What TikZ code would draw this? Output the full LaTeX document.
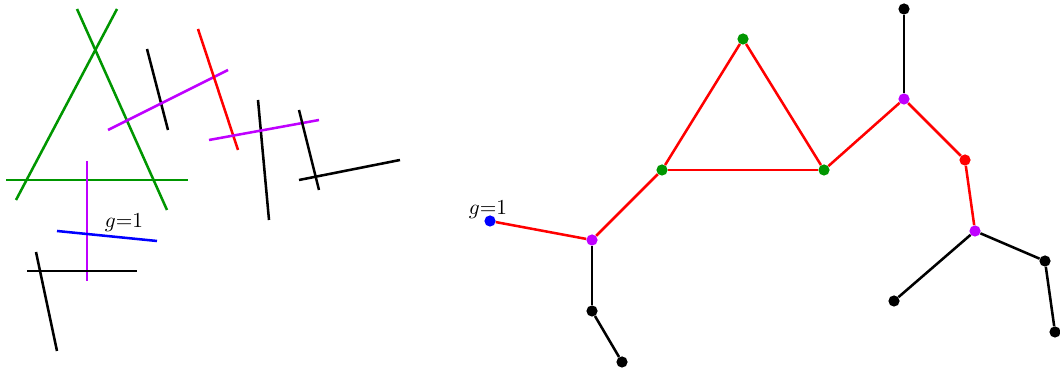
\documentclass[tikz,border=0pt]{standalone}
\definecolor{grn}{RGB}{0,150,0}
\definecolor{pur}{RGB}{191,0,255}
\tikzset{
  seg/.style={line width=1.9pt},
  edge/.style={line width=1.9pt},
  dot/.style={circle, inner sep=0pt, minimum size=8.4pt},
  lbl/.style={inner sep=0pt, anchor=base}
}
\newcommand{\glabel}{\scalebox{1.6}{$g{=}1$}}
\begin{document}
\begin{tikzpicture}[x=0.75pt,y=-0.75pt]
\useasboundingbox (0,0) rectangle (1060,373);
% ---------- left: line arrangement ----------
\draw[seg, grn] (77,9) -- (167,210);
\draw[seg, grn] (117,9) -- (16,200);
\draw[seg, grn] (6,180) -- (188,180);
\draw[seg, black] (147,49) -- (168,130);
\draw[seg, pur] (108,130) -- (228,70);
\draw[seg, red] (198,29) -- (238,150);
\draw[seg, black] (258,100) -- (269,220);
\draw[seg, pur] (209,140) -- (319,120);
\draw[seg, black] (299,110) -- (319,190);
\draw[seg, black] (299,180) -- (400,160);
\draw[seg, pur] (87,161) -- (87,281);
\draw[seg, blue] (57,231) -- (157,241);
\draw[seg, black] (27,271) -- (137,271);
\draw[seg, black] (36,252) -- (57,351);
\node[lbl] (lg) at (124,228) {\glabel};
% ---------- right: dual graph ----------
\node[dot, fill=blue] (b) at (490,221) {};
\node[dot, fill=pur] (p1) at (592,240) {};
\node[dot, fill=black] (k1) at (592,311) {};
\node[dot, fill=black] (k2) at (622,362) {};
\node[dot, fill=grn] (gl) at (662,170) {};
\node[dot, fill=grn] (gt) at (743,39) {};
\node[dot, fill=grn] (gr) at (824,170) {};
\node[dot, fill=pur] (p2) at (904,99) {};
\node[dot, fill=black] (kt) at (904,9) {};
\node[dot, fill=red] (r) at (965,160) {};
\node[dot, fill=pur] (p3) at (975,231) {};
\node[dot, fill=black] (kl) at (894,301) {};
\node[dot, fill=black] (kr) at (1045,261) {};
\node[dot, fill=black] (kf) at (1055,332) {};
\node[lbl] (rg) at (488,215) {\glabel};
\draw[edge, red] (b) -- (p1);
\draw[edge, red] (p1) -- (gl);
\draw[edge, red] (gl) -- (gt);
\draw[edge, red] (gt) -- (gr);
\draw[edge, red] (gl) -- (gr);
\draw[edge, red] (gr) -- (p2);
\draw[edge, red] (p2) -- (r);
\draw[edge, red] (r) -- (p3);
\draw[edge, black] (p1) -- (k1);
\draw[edge, black] (k1) -- (k2);
\draw[edge, black] (p2) -- (kt);
\draw[edge, black] (p3) -- (kl);
\draw[edge, black] (p3) -- (kr);
\draw[edge, black] (kr) -- (kf);
\end{tikzpicture}
\end{document}
